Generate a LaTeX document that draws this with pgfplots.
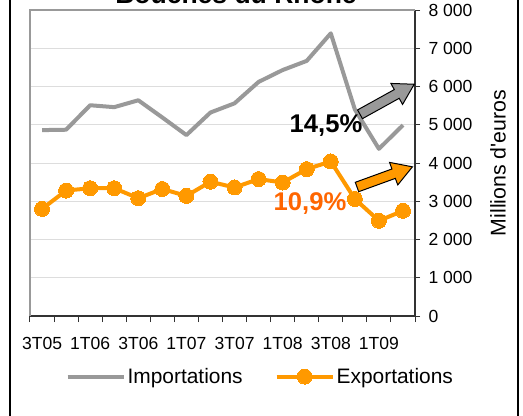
\documentclass[border=0pt]{standalone}
\usepackage{pgfplots}
\pgfplotsset{compat=1.18}
\usepackage{fontspec}
\setmainfont{Liberation Sans}
\definecolor{impgray}{RGB}{153,153,153}
\definecolor{exporange}{RGB}{255,153,0}
\definecolor{pctorange}{RGB}{255,102,0}
\definecolor{gridgray}{RGB}{221,221,221}

\pgfplotstableread{
idx imp exp
0 4860 2800
1 4870 3280
2 5510 3340
3 5460 3340
4 5640 3080
5 5190 3320
6 4730 3140
7 5320 3510
8 5560 3360
9 6120 3580
10 6430 3490
11 6670 3840
12 7390 4040
13 5400 3060
14 4370 2490
15 4990 2750
}\datatable

\begin{document}
\begin{tikzpicture}[x=1bp,y=1bp]
\path[use as bounding box] (0,0) rectangle (523,415);
\clip (0,0) rectangle (523,415);
\fill[white] (0,0) rectangle (523,415);
\draw[line width=1.6bp] (10,-10) rectangle (518,430);
\node[anchor=base, font=\fontsize{26.6}{30}\selectfont\bfseries] at (236,411) {Bouches du Rhône};
\begin{axis}[
  at={(42.03bp,99bp)}, anchor=origin,
  scale only axis, width=385bp, height=306bp,
  xmin=-0.5, xmax=15.5, ymin=0, ymax=8000,
  axis x line*=bottom, axis y line*=right,
  axis line style={black!80, line width=1.2bp},
  xtick={0,2,...,14},
  xticklabels={3T05,1T06,3T06,1T07,3T07,1T08,3T08,1T09},
  major x tick style={draw=none},
  minor xtick={-0.5,0.5,...,15.5},
  minor x tick style={black!80, line width=1bp},
  minor tick length=6bp,
  tick align=outside,
  major tick length=5bp,
  ytick={0,1000,...,8000},
  y tick style={black!80, line width=1bp},
  ymajorgrids, major grid style={gridgray, line width=0.8bp},
  scaled y ticks=false,
  /pgf/number format/.cd, 1000 sep={\ }, assume math mode=true,
  /pgfplots/.cd,
  tick label style={font=\fontsize{17.6}{20}\selectfont},
  y tick label style={xshift=5bp},
  x tick label style={yshift=-13bp},
  legend columns=2,
  legend style={draw=none, fill=none, at={(0.598,-0.198)}, anchor=center,
    font=\fontsize{21}{24}\selectfont,
    /tikz/every even column/.append style={column sep=30bp},
    inner sep=0pt},
  legend image code/.code={\draw[mark repeat=2,mark phase=2,#1] plot coordinates {(0bp,0bp) (28bp,0bp) (56bp,0bp)};},
]
\addplot[impgray, line width=4bp, line join=round, no markers] table[x=idx, y=imp] {\datatable};
\addlegendentry{Importations}
\addplot[exporange, line width=4bp, line join=round, mark=*, mark size=7.5bp, mark options={fill=exporange, draw=exporange, line width=0pt}] table[x=idx, y=exp] {\datatable};
\addlegendentry{Exportations}
\end{axis}
\draw[impgray, line width=2.2bp] (30,99) -- (30,405) -- (415,405);
\node[rotate=90, font=\fontsize{21.4}{24}\selectfont] at (498,252) {Millions d\textquotesingle euros};
% annotations
\begin{scope}[shift={(360,300.7)}, rotate=29]
\filldraw[fill=impgray, draw=black, line width=1bp, line join=miter] (0,-5) -- (42,-5) -- (42,-12) -- (62,0) -- (42,12) -- (42,5) -- (0,5) -- cycle;
\end{scope}
\begin{scope}[shift={(357,228)}, rotate=20]
\filldraw[fill=exporange, draw=black, line width=1bp, line join=miter] (0,-5) -- (39,-5) -- (39,-12) -- (59,0) -- (39,12) -- (39,5) -- (0,5) -- cycle;
\end{scope}
\node[font=\fontsize{25.7}{28}\selectfont\bfseries] at (326,289) {14,5\%};
\node[font=\fontsize{25.7}{28}\selectfont\bfseries, text=pctorange] at (310,211) {10,9\%};
\end{tikzpicture}
\end{document}
